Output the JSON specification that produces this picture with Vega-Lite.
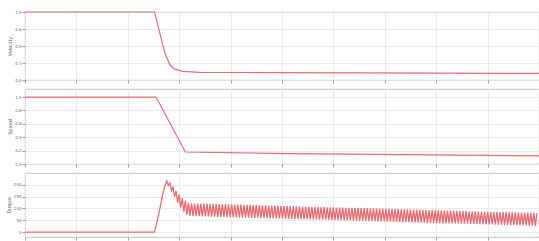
{
 "$schema": "https://vega.github.io/schema/vega-lite/v6.json",
 "padding": {"left": 5, "top": 9, "right": 0, "bottom": 0},
 "background": "white",
 "spacing": 9,
 "bounds": "flush",
 "config": {
  "view": {"stroke": "#b4b4b4", "strokeWidth": 0.8},
  "axis": {"gridColor": "#e4e4e4", "gridWidth": 0.8, "domain": false, "tickColor": "#9a9a9a", "tickSize": 3, "labelFontSize": 4, "labelColor": "#666", "titleFontSize": 5, "titleFontWeight": "normal", "titleColor": "#555", "labelFont": "DejaVu Sans", "titleFont": "DejaVu Sans", "labelPadding": 1, "titlePadding": 2},
  "line": {"color": "#e86a72", "strokeWidth": 1.2}
 },
 "datasets": {
  "p1": [
   {"t": 0, "v": 1}, {"t": 2.52, "v": 1}, {"t": 2.62, "v": 0.70}, {"t": 2.72, "v": 0.40}, {"t": 2.82, "v": 0.22}, {"t": 2.91, "v": 0.16}, {"t": 3.07, "v": 0.127}, {"t": 3.40, "v": 0.112}, {"t": 10, "v": 0.097}
  ],
  "p2": [
   {"t": 0, "v": 1}, {"t": 2.55, "v": 1}, {"t": 3.12, "v": 0.179}, {"t": 5.17, "v": 0.154}, {"t": 10, "v": 0.12}
  ],
  "p3": [
   {"t": 0, "v": 0}, {"t": 2.52, "v": 0}, {"t": 2.57, "v": 45}, {"t": 2.62, "v": 95}, {"t": 2.67, "v": 150}, {"t": 2.72, "v": 195}, {"t": 2.76, "v": 216},
   {"t": 2.79, "v": 198}, {"t": 2.82, "v": 207}, {"t": 2.85, "v": 175}, {"t": 2.88, "v": 190}, {"t": 2.91, "v": 149}, {"t": 2.94, "v": 173}, {"t": 2.97, "v": 125}, {"t": 3.00, "v": 158}, {"t": 3.03, "v": 103}, {"t": 3.06, "v": 144}, {"t": 3.09, "v": 86}, {"t": 3.12, "v": 133}, {"t": 3.15, "v": 74}, {"t": 3.18, "v": 124},
   {"t": 3.21, "v": 68}, {"t": 3.24, "v": 122}, {"t": 3.27, "v": 67}, {"t": 3.30, "v": 121}, {"t": 3.33, "v": 67}, {"t": 3.36, "v": 121}, {"t": 3.39, "v": 67}, {"t": 3.42, "v": 121}, {"t": 3.45, "v": 66}, {"t": 3.48, "v": 120},
   {"t": 3.51, "v": 66}, {"t": 3.54, "v": 120}, {"t": 3.57, "v": 66}, {"t": 3.60, "v": 119}, {"t": 3.63, "v": 65}, {"t": 3.66, "v": 119}, {"t": 3.69, "v": 65}, {"t": 3.72, "v": 119}, {"t": 3.75, "v": 64}, {"t": 3.78, "v": 118},
   {"t": 3.81, "v": 64}, {"t": 3.84, "v": 118}, {"t": 3.87, "v": 64}, {"t": 3.90, "v": 118}, {"t": 3.93, "v": 63}, {"t": 3.96, "v": 117}, {"t": 3.99, "v": 63}, {"t": 4.02, "v": 117}, {"t": 4.05, "v": 63}, {"t": 4.08, "v": 116},
   {"t": 4.11, "v": 62}, {"t": 4.14, "v": 116}, {"t": 4.17, "v": 62}, {"t": 4.20, "v": 116}, {"t": 4.23, "v": 61}, {"t": 4.26, "v": 115}, {"t": 4.29, "v": 61}, {"t": 4.32, "v": 115}, {"t": 4.35, "v": 61}, {"t": 4.38, "v": 115},
   {"t": 4.41, "v": 60}, {"t": 4.44, "v": 114}, {"t": 4.47, "v": 60}, {"t": 4.50, "v": 114}, {"t": 4.53, "v": 60}, {"t": 4.56, "v": 113}, {"t": 4.59, "v": 59}, {"t": 4.62, "v": 113}, {"t": 4.65, "v": 59}, {"t": 4.68, "v": 113},
   {"t": 4.71, "v": 59}, {"t": 4.74, "v": 112}, {"t": 4.77, "v": 58}, {"t": 4.80, "v": 112}, {"t": 4.83, "v": 58}, {"t": 4.86, "v": 112}, {"t": 4.89, "v": 57}, {"t": 4.92, "v": 111}, {"t": 4.95, "v": 57}, {"t": 4.98, "v": 111},
   {"t": 5.01, "v": 57}, {"t": 5.04, "v": 111}, {"t": 5.07, "v": 56}, {"t": 5.10, "v": 110}, {"t": 5.13, "v": 56}, {"t": 5.16, "v": 110}, {"t": 5.19, "v": 56}, {"t": 5.22, "v": 109}, {"t": 5.25, "v": 55}, {"t": 5.28, "v": 109},
   {"t": 5.31, "v": 55}, {"t": 5.34, "v": 109}, {"t": 5.37, "v": 54}, {"t": 5.40, "v": 108}, {"t": 5.43, "v": 54}, {"t": 5.46, "v": 108}, {"t": 5.49, "v": 54}, {"t": 5.52, "v": 108}, {"t": 5.55, "v": 53}, {"t": 5.58, "v": 107},
   {"t": 5.61, "v": 53}, {"t": 5.64, "v": 107}, {"t": 5.67, "v": 53}, {"t": 5.70, "v": 106}, {"t": 5.73, "v": 52}, {"t": 5.76, "v": 106}, {"t": 5.79, "v": 52}, {"t": 5.82, "v": 106}, {"t": 5.85, "v": 52}, {"t": 5.88, "v": 105},
   {"t": 5.91, "v": 51}, {"t": 5.94, "v": 105}, {"t": 5.97, "v": 51}, {"t": 6.00, "v": 105}, {"t": 6.03, "v": 50}, {"t": 6.06, "v": 104}, {"t": 6.09, "v": 50}, {"t": 6.12, "v": 104}, {"t": 6.15, "v": 50}, {"t": 6.18, "v": 104},
   {"t": 6.21, "v": 49}, {"t": 6.24, "v": 103}, {"t": 6.27, "v": 49}, {"t": 6.30, "v": 103}, {"t": 6.33, "v": 49}, {"t": 6.36, "v": 102}, {"t": 6.39, "v": 48}, {"t": 6.42, "v": 102}, {"t": 6.45, "v": 48}, {"t": 6.48, "v": 102},
   {"t": 6.51, "v": 47}, {"t": 6.54, "v": 101}, {"t": 6.57, "v": 47}, {"t": 6.60, "v": 101}, {"t": 6.63, "v": 47}, {"t": 6.66, "v": 101}, {"t": 6.69, "v": 46}, {"t": 6.72, "v": 100}, {"t": 6.75, "v": 46}, {"t": 6.78, "v": 100},
   {"t": 6.81, "v": 46}, {"t": 6.84, "v": 99}, {"t": 6.87, "v": 45}, {"t": 6.90, "v": 99}, {"t": 6.93, "v": 45}, {"t": 6.96, "v": 99}, {"t": 6.99, "v": 45}, {"t": 7.02, "v": 98}, {"t": 7.05, "v": 44}, {"t": 7.08, "v": 98},
   {"t": 7.11, "v": 44}, {"t": 7.14, "v": 98}, {"t": 7.17, "v": 43}, {"t": 7.20, "v": 97}, {"t": 7.23, "v": 43}, {"t": 7.26, "v": 97}, {"t": 7.29, "v": 43}, {"t": 7.32, "v": 96}, {"t": 7.35, "v": 42}, {"t": 7.38, "v": 96},
   {"t": 7.41, "v": 42}, {"t": 7.44, "v": 96}, {"t": 7.47, "v": 42}, {"t": 7.50, "v": 95}, {"t": 7.53, "v": 41}, {"t": 7.56, "v": 95}, {"t": 7.59, "v": 41}, {"t": 7.62, "v": 95}, {"t": 7.65, "v": 40}, {"t": 7.68, "v": 94},
   {"t": 7.71, "v": 40}, {"t": 7.74, "v": 94}, {"t": 7.77, "v": 40}, {"t": 7.80, "v": 93}, {"t": 7.83, "v": 39}, {"t": 7.86, "v": 93}, {"t": 7.89, "v": 39}, {"t": 7.92, "v": 93}, {"t": 7.95, "v": 39}, {"t": 7.98, "v": 92},
   {"t": 8.01, "v": 38}, {"t": 8.04, "v": 92}, {"t": 8.07, "v": 38}, {"t": 8.10, "v": 92}, {"t": 8.13, "v": 37}, {"t": 8.16, "v": 91}, {"t": 8.19, "v": 37}, {"t": 8.22, "v": 91}, {"t": 8.25, "v": 37}, {"t": 8.28, "v": 91},
   {"t": 8.31, "v": 36}, {"t": 8.34, "v": 90}, {"t": 8.37, "v": 36}, {"t": 8.40, "v": 90}, {"t": 8.43, "v": 36}, {"t": 8.46, "v": 89}, {"t": 8.49, "v": 35}, {"t": 8.52, "v": 89}, {"t": 8.55, "v": 35}, {"t": 8.58, "v": 89},
   {"t": 8.61, "v": 35}, {"t": 8.64, "v": 88}, {"t": 8.67, "v": 34}, {"t": 8.70, "v": 88}, {"t": 8.73, "v": 34}, {"t": 8.76, "v": 88}, {"t": 8.79, "v": 33}, {"t": 8.82, "v": 87}, {"t": 8.85, "v": 33}, {"t": 8.88, "v": 87},
   {"t": 8.91, "v": 33}, {"t": 8.94, "v": 86}, {"t": 8.97, "v": 32}, {"t": 9.00, "v": 86}, {"t": 9.03, "v": 32}, {"t": 9.06, "v": 86}, {"t": 9.09, "v": 32}, {"t": 9.12, "v": 85}, {"t": 9.15, "v": 31}, {"t": 9.18, "v": 85},
   {"t": 9.21, "v": 31}, {"t": 9.24, "v": 85}, {"t": 9.27, "v": 30}, {"t": 9.30, "v": 84}, {"t": 9.33, "v": 30}, {"t": 9.36, "v": 84}, {"t": 9.39, "v": 30}, {"t": 9.42, "v": 84}, {"t": 9.45, "v": 29}, {"t": 9.48, "v": 83},
   {"t": 9.51, "v": 29}, {"t": 9.54, "v": 83}, {"t": 9.57, "v": 29}, {"t": 9.60, "v": 82}, {"t": 9.63, "v": 28}, {"t": 9.66, "v": 82}, {"t": 9.69, "v": 28}, {"t": 9.72, "v": 82}, {"t": 9.75, "v": 28}, {"t": 9.78, "v": 81},
   {"t": 9.81, "v": 27}, {"t": 9.84, "v": 81}, {"t": 9.87, "v": 27}, {"t": 9.90, "v": 81}, {"t": 9.93, "v": 26}, {"t": 9.96, "v": 80}
  ]
 },
 "vconcat": [
  {
   "width": 514, "height": 68,
   "data": {"name": "p1"},
   "mark": {"type": "line"},
   "encoding": {
    "x": {"field": "t", "type": "quantitative", "scale": {"domain": [0, 10], "nice": false}, "axis": {"values": [0,1,2,3,4,5,6,7,8,9,10], "labels": false, "title": null}},
    "y": {"field": "v", "type": "quantitative", "scale": {"domain": [0, 1], "nice": false}, "axis": {"values": [0, 0.25, 0.5, 0.75, 1], "title": "Velocity"}}
   }
  },
  {
   "width": 514, "height": 75,
   "data": {"name": "p2"},
   "mark": {"type": "line"},
   "encoding": {
    "x": {"field": "t", "type": "quantitative", "scale": {"domain": [0, 10], "nice": false}, "axis": {"values": [0,1,2,3,4,5,6,7,8,9,10], "labels": false, "title": null}},
    "y": {"field": "v", "type": "quantitative", "scale": {"domain": [0, 1.12], "nice": false}, "axis": {"values": [0, 0.2, 0.4, 0.6, 0.8, 1], "title": "Speed"}}
   }
  },
  {
   "width": 514, "height": 64,
   "data": {"name": "p3"},
   "mark": {"type": "line", "strokeWidth": 1.3},
   "encoding": {
    "x": {"field": "t", "type": "quantitative", "scale": {"domain": [0, 10], "nice": false}, "axis": {"values": [0,1,2,3,4,5,6,7,8,9,10], "title": null}},
    "y": {"field": "v", "type": "quantitative", "scale": {"domain": [-21, 250], "nice": false}, "axis": {"values": [0, 50, 100, 150, 200], "title": "Torque"}}
   }
  }
 ]
}
